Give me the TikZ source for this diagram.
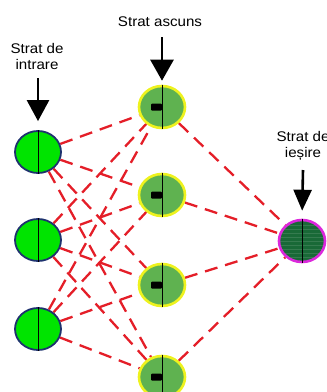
\documentclass[tikz,border=0pt]{standalone}
\usepackage{fontspec}
\newfontfamily\lblfont[FakeStretch=1.08]{Liberation Sans}
\usepackage{xcolor}
\usetikzlibrary{arrows.meta, shapes.geometric, backgrounds}

\definecolor{inGreen}{RGB}{0,228,0}
\definecolor{inBorder}{RGB}{30,50,110}
\definecolor{hidGreen}{RGB}{95,178,80}
\definecolor{hidBorder}{RGB}{238,242,30}
\definecolor{outGreen}{RGB}{25,105,55}
\definecolor{outBorder}{RGB}{220,40,220}
\definecolor{linkRed}{RGB}{228,30,40}

\begin{document}
\begin{tikzpicture}[x=1pt, y=-1pt,
		neuron/.style={ellipse, minimum width=46pt, minimum height=42pt, inner sep=0pt},
		inneuron/.style={neuron, draw=inBorder, line width=1.8pt, fill=inGreen},
		hidneuron/.style={neuron, draw=hidBorder, line width=2.6pt, fill=hidGreen},
		outneuron/.style={neuron, draw=outBorder, line width=2.6pt, fill=outGreen,
			path picture={\foreach \k in {-16,-12,...,16}
				\draw[outGreen!88!white, line width=0.3pt] ([yshift=\k pt]path picture bounding box.west) -- ++(50pt,0);}},
		link/.style={linkRed, line width=2.3pt, dash pattern=on 13pt off 8pt},
		layerarrow/.style={line width=2.6pt, -{Triangle[width=#1, length=21pt]}},
		layerarrow/.default=22pt,
		layerlabel/.style={font=\lblfont\fontsize{14pt}{16pt}\selectfont, align=center, inner sep=0pt}
	]
		%picture frame
		\useasboundingbox (0,0) rectangle (327,392);
		
		%input layer
		\foreach \i/\y in {1/152, 2/240, 3/329}
			\node [inneuron] (in\i) at (38,\y) {};
		
		%hidden layer
		\foreach \j/\y in {1/107, 2/195, 3/285, 4/377}
			\node [hidneuron] (h\j) at (162,\y) {};
		
		%output layer
		\node [outneuron] (out) at (302,241) {};
		
		%middle lines and marks
		\foreach \n in {in1, in2, in3, h1, h2, h3, h4, out}
			\draw [line width=0.9pt] (\n.north) -- (\n.south);
		\foreach \j in {1,...,4}
			\fill [rounded corners=1pt] ([xshift=-11pt, yshift=3.5pt]h\j.center) rectangle ([yshift=-3.5pt]h\j.center);
		
		%weights
		\begin{scope}[on background layer]
			\foreach \i in {1,2,3}
				\foreach \j in {1,...,4}
					\draw [link] (in\i) -- (h\j);
			\foreach \j in {1,...,4}
				\draw [link] (h\j) -- (out);
		\end{scope}
		
		%layer labels
		\node [layerlabel] (lblIn) at (37,56) {Strat de\\intrare};
		\node [layerlabel] (lblHid) at (160,22) {Strat ascuns};
		\node [layerlabel] (lblOut) at (303,146) {Strat de\\ieșire};
		
		%arrows
		\coordinate (inTop) at (38,78);
		\coordinate (hidTop) at (162,37);
		\coordinate (outTop) at (303,170);
		\draw [layerarrow=22pt, shorten >=9pt] (inTop) -- (in1.north);
		\draw [layerarrow=23pt, shorten >=4pt] (hidTop) -- (h1.north);
		\draw [layerarrow=18pt, shorten >=8pt] (outTop) -- (out.north);
		
\end{tikzpicture}
\end{document}
